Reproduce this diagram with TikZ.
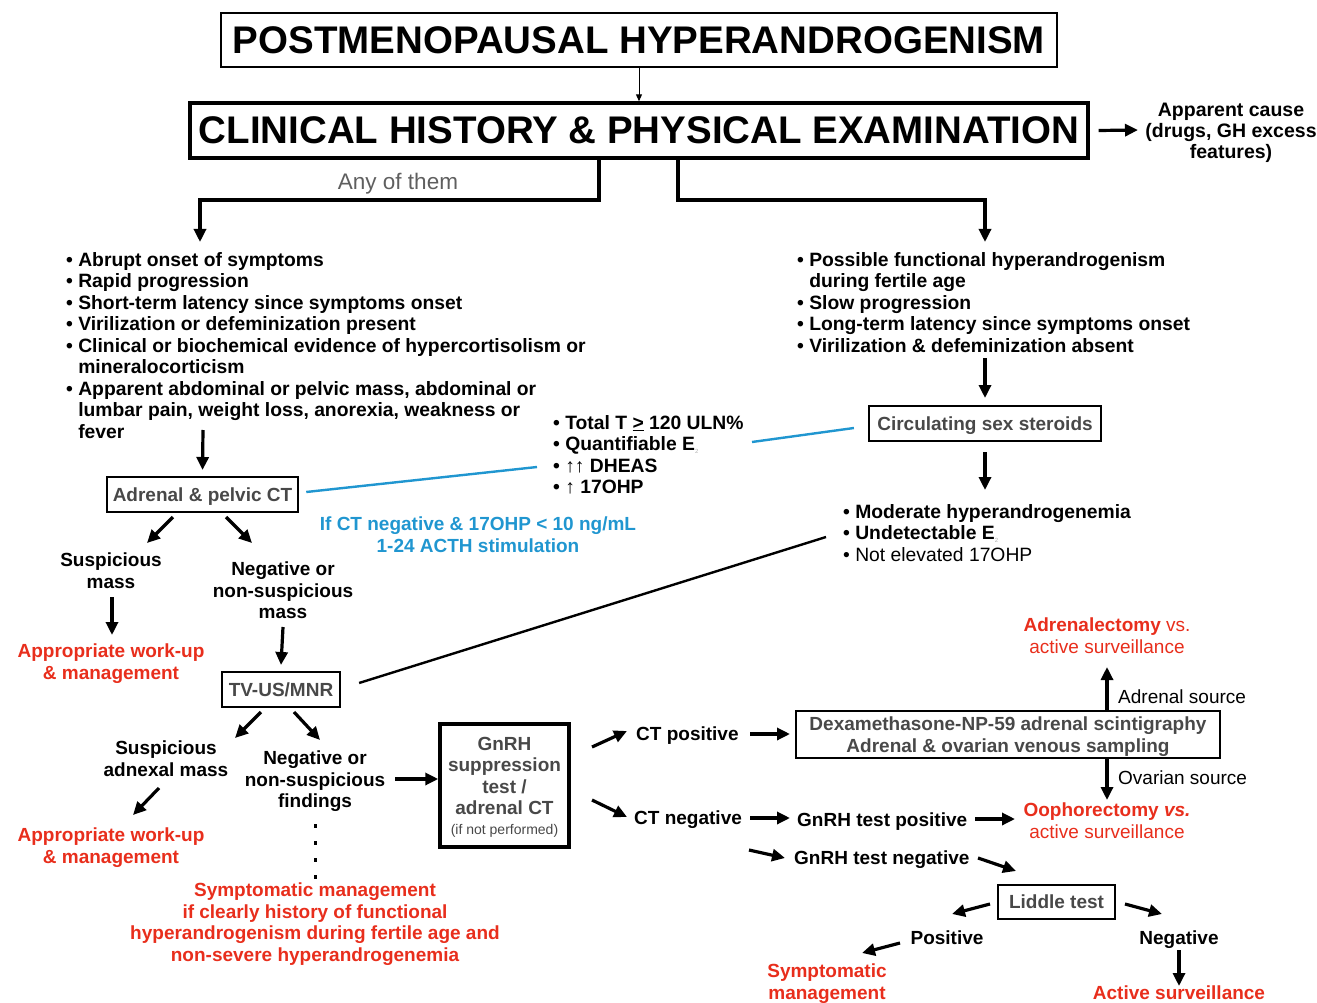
\documentclass[tikz,border=0pt]{standalone}
\usepackage{fontspec}
\setmainfont{Liberation Sans}
\usetikzlibrary{arrows.meta}
\definecolor{myred}{RGB}{232,46,28}
\definecolor{myblue}{RGB}{32,150,208}
\definecolor{boxgray}{RGB}{72,72,72}
\definecolor{anygray}{RGB}{95,95,95}
\begin{document}
\begin{tikzpicture}[x=1pt,y=-1pt,
  txt/.style={font=\fontsize{19}{21.5}\selectfont\bfseries, inner sep=0pt, align=center},
  lst/.style={txt, font=\fontsize{19.3}{21.5}\selectfont\bfseries, align=left, anchor=north west},
  redtxt/.style={txt, text=myred},
  thin/.style={txt, font=\fontsize{19}{21.5}\selectfont},
  boxx/.style={draw, txt, text=boxgray, text depth=0pt},
  arr/.style={line width=3.2pt, -{Triangle[length=13pt,width=12pt]}},
  elbow/.style={line width=3.6pt, line join=miter}]
\useasboundingbox (0,0) rectangle (1317,1003);

% titles
\node[draw, line width=1.5pt, minimum width=836pt, minimum height=54pt, inner sep=0pt,
  font=\fontsize{38.5}{40}\selectfont\bfseries] (title) at (639,40) {POSTMENOPAUSAL HYPERANDROGENISM};
\node[draw, line width=3.4pt, minimum width=898pt, minimum height=55pt, inner sep=0pt,
  font=\fontsize{38.5}{40}\selectfont\bfseries] (clin) at (639,130.5) {CLINICAL HISTORY \& PHYSICAL EXAMINATION};
\draw[line width=1pt, -{Triangle[length=7pt,width=6pt]}] (title.south) -- (clin.north);

\node[txt, anchor=north, font=\fontsize{19.5}{21}\selectfont\bfseries] (app) at (1231,103) {Apparent cause\\(drugs, GH excess\\features)};
\draw[arr] ([xshift=9pt]clin.east) -- (1138,130);

% branches
\node[thin, text=anygray, font=\fontsize{22.5}{24}\selectfont] (any) at (398,184) {Any of them};
\draw[elbow] ([xshift=-40pt]clin.south) |- (200,200);
\draw[arr] (200,198.2) -- (200,242);
\draw[elbow] ([xshift=39pt]clin.south) |- (985,200);
\draw[arr] (985,198.2) -- (985,242);

% left list
\node[lst] (L1) at (66,252) {\textbullet\ Abrupt onset of symptoms\\
\textbullet\ Rapid progression\\
\textbullet\ Short-term latency since symptoms onset\\
\textbullet\ Virilization or defeminization present\\
\textbullet\ Clinical or biochemical evidence of hypercortisolism or\\
\hphantom{\textbullet\ }mineralocorticism\\
\textbullet\ Apparent abdominal or pelvic mass, abdominal or\\
\hphantom{\textbullet\ }lumbar pain, weight loss, anorexia, weakness or\\
\hphantom{\textbullet\ }fever};

% right list
\node[lst] (R1) at (797,252) {\textbullet\ Possible functional hyperandrogenism\\
\hphantom{\textbullet\ }during fertile age\\
\textbullet\ Slow progression\\
\textbullet\ Long-term latency since symptoms onset\\
\textbullet\ Virilization \& defeminization absent};

% adrenal CT
\node[boxx, line width=2.5pt, minimum width=191pt, minimum height=35pt] (adrct) at (202.5,494.5) {Adrenal \& pelvic CT};
\draw[arr] (203,430) -- (adrct.north |- 0,470);

% middle list
\node[lst] (ML) at (553,415) {\textbullet\ Total T \underline{>} 120 ULN\%\\
\textbullet\ Quantifiable E\raisebox{-3pt}{\textcolor{black!30}{\fontsize{6}{6}\selectfont\mdseries 2}}\\
\textbullet\ {\mdseries ↑↑} DHEAS\\
\textbullet\ {\mdseries ↑} 17OHP};

% circulating
\node[boxx, line width=2.2pt, minimum width=232pt, minimum height=35pt] (circ) at (985,423.5) {Circulating sex steroids};
\draw[arr] (985,358) -- (circ.north |- 0,398);
\draw[arr] (circ.south |- 0,452) -- (985,490);

\draw[myblue, line width=2.4pt] ([xshift=7pt,yshift=2.5pt]adrct.east) -- (537,467);
\draw[myblue, line width=2.4pt] (752,442) -- ([xshift=-14pt,yshift=-4.5pt]circ.west);

\node[txt, text=myblue, anchor=north] (acth) at (478,517) {If CT negative \& 17OHP < 10 ng/mL\\1-24 ACTH stimulation};

% right lower list
\node[lst] (R2) at (843,504) {\textbullet\ Moderate hyperandrogenemia\\
\textbullet\ Undetectable E\raisebox{-3pt}{\textcolor{black!30}{\fontsize{6}{6}\selectfont\mdseries 2}}\\
{\mdseries\textbullet\ Not elevated 17OHP}};

% adrenal CT outcomes
\draw[arr] (173,517) -- (147,543);
\draw[arr] (226,517) -- (252,543);
\node[txt, anchor=north] (susp) at (111,553) {Suspicious\\mass};
\draw[arr] (112,597) -- (112,635);
\node[redtxt, anchor=north] (wu1) at (111,644) {Appropriate work-up\\\& management};
\node[txt, anchor=north] (neg1) at (283,562) {Negative or\\non-suspicious\\mass};

% TV-US
\node[boxx, line width=2.2pt, minimum width=118pt, minimum height=35pt] (tv) at (281,689.5) {TV-US/MNR};
\draw[arr] (283,627) -- (tv.north |- 0,665);
\draw[line width=2.4pt] ([xshift=18pt,yshift=6.5pt]tv.east) -- (826,537);

\draw[arr] (261,712) -- (235,738);
\draw[arr] (294,712) -- (320,740);
\node[txt, anchor=north] (susp2) at (166,741) {Suspicious\\adnexal mass};
\draw[arr] (159,788) -- (133,815);
\node[redtxt, anchor=north] (wu2) at (111,828) {Appropriate work-up\\\& management};
\node[txt, anchor=north] (neg2) at (315,751) {Negative or\\non-suspicious\\findings};
\draw[line width=3pt, dash pattern=on 4pt off 13pt] (315,824) -- (315,880);
\node[redtxt, anchor=north] (symp) at (315,883) {Symptomatic management\\if clearly history of functional\\hyperandrogenism during fertile age and\\non-severe hyperandrogenemia};

% GnRH box
\node[boxx, line width=3.5pt, minimum width=129pt, minimum height=123pt] (gnrh) at (504.5,785.5)
  {GnRH\\suppression\\test /\\adrenal CT\\[-2pt]{\fontsize{14}{16}\selectfont\mdseries (if not performed)}};
\draw[arr] (395,779) -- (gnrh.west |- 0,779);

\draw[arr] (592,747) -- (627,731);
\node[txt, anchor=base west] (ctpos) at (636,740) {CT positive};
\draw[arr] (750,734) -- (790,734);
\node[boxx, line width=2pt, minimum width=424pt, minimum height=47pt] (dexa) at (1008,734.5)
  {Dexamethasone-NP-59 adrenal scintigraphy\\Adrenal \& ovarian venous sampling};

\draw[arr] (dexa.north -| 1107,0) -- (1107,667);
\node[thin, anchor=base west] (adsrc) at (1118,703) {Adrenal source};
\node[redtxt, anchor=north] (adrx) at (1107,618) {Adrenalectomy {\mdseries vs.}\\{\mdseries active surveillance}};

\draw[arr] (dexa.south -| 1107,0) -- (1107,800);
\node[thin, anchor=base west] (ovsrc) at (1118,784) {Ovarian source};
\node[redtxt, anchor=north] (ooph) at (1107,803) {Oophorectomy \textit{vs.}\\{\mdseries active surveillance}};

\draw[arr] (592,800) -- (627,817);
\node[txt, anchor=base west] (ctneg) at (634,824) {CT negative};
\draw[arr] (750,818) -- (790,818);
\node[txt, anchor=base west] (gpos) at (797,826) {GnRH test positive};
\draw[arr] (975,819) -- (1015,819);

\draw[arr] (749,850) -- (785,858);
\node[txt, anchor=base west] (gneg) at (794,864) {GnRH test negative};
\draw[arr] (978,858) -- (1016,871);

% Liddle
\node[boxx, line width=2.2pt, minimum width=117pt, minimum height=34pt] (lid) at (1056.5,902) {Liddle test};
\draw[arr] (990,904) -- (952,914);
\node[txt, anchor=base] (pos) at (947,944) {Positive};
\draw[arr] (900,943) -- (862,953);
\node[redtxt, anchor=north] (symp2) at (827,964) {Symptomatic\\management};
\draw[arr] (1125,904) -- (1162,914);
\node[txt, anchor=base] (negl) at (1179,944) {Negative};
\draw[arr] (1179,950) -- (1179,986);
\node[redtxt, anchor=base] (act) at (1179,999) {Active surveillance};
\end{tikzpicture}
\end{document}
